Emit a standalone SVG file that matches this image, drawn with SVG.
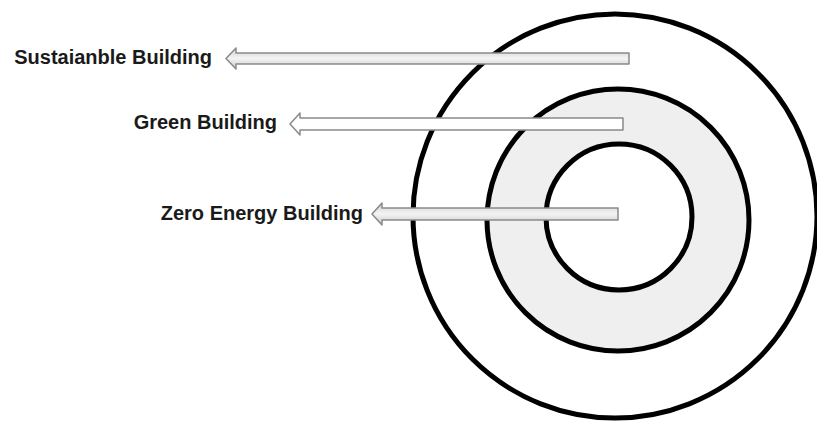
<svg xmlns="http://www.w3.org/2000/svg" width="817" height="421" viewBox="0 0 817 421">
<style>
.ring{stroke:#000;stroke-width:5}
.lbl{font-family:"Liberation Sans",Arial,sans-serif;font-weight:bold;font-size:20px;fill:#1a1a1a;text-anchor:end}
.arr{stroke:#8a8a8a;stroke-width:1.5;stroke-linejoin:round}
</style>
<defs>
<linearGradient id="g" x1="0" y1="0" x2="0" y2="1">
<stop offset="0" stop-color="#cfcfcf"/><stop offset="0.5" stop-color="#f4f4f4"/><stop offset="1" stop-color="#c8c8c8"/>
</linearGradient>
</defs>
<rect width="817" height="421" fill="#fff"/>
<g id="outer"><circle class="ring" cx="615" cy="216" r="202" fill="#fff"/></g>
<g id="middle"><circle class="ring" cx="618" cy="220" r="131" fill="#efefef"/></g>
<g id="inner"><circle class="ring" cx="619" cy="217" r="73" fill="#fff"/></g>
<g id="connectors">
<path class="arr" fill="url(#g)" d="M629,53 L236,53 L236,48 L226,58.5 L236,69 L236,64 L629,64 Z"/>
<path class="arr" fill="#fff" d="M623,118 L300,118 L300,113 L290,124 L300,135 L300,130 L623,130 Z"/>
<path class="arr" fill="url(#g)" d="M618,208 L382,208 L382,203 L372,214 L382,225 L382,220 L618,220 Z"/>
</g>
<g id="sustainable"><text class="lbl" x="212" y="64">Sustaianble Building</text></g>
<g id="green"><text class="lbl" x="277" y="129">Green Building</text></g>
<g id="zero"><text class="lbl" x="363" y="220">Zero Energy Building</text></g>
</svg>
